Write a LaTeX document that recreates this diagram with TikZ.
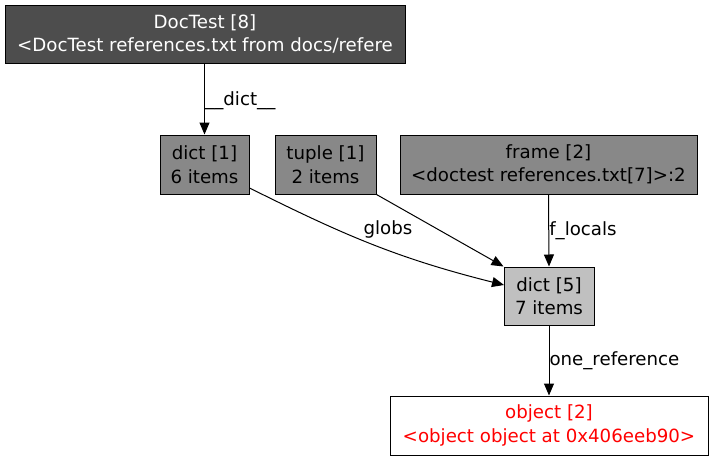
\documentclass[tikz,border=0pt]{standalone}
\usepackage{fontspec}
\setmainfont{DejaVu Sans}
\usetikzlibrary{arrows.meta}
\definecolor{darkfill}{HTML}{4D4D4D}
\definecolor{midfill}{HTML}{888888}
\definecolor{lightfill}{HTML}{C0C0C0}
\begin{document}
\begin{tikzpicture}[x=1pt,y=-1pt,
  objbox/.style={draw=black,line width=1pt,rectangle,inner sep=0pt,align=center,
     font=\fontsize{18.2}{23.5}\selectfont},
  edge/.style={draw=black,line width=1pt,-{Triangle[length=12pt,width=10pt]}},
  elabel/.style={font=\fontsize{18.2}{23.5}\selectfont,inner sep=0pt}]
\useasboundingbox[fill=white] (0,0) rectangle (713,461);
\node[objbox,fill=darkfill,text=white,minimum width=400pt,minimum height=58pt] (doctest) at (205,34) {DocTest [8]\\<DocTest references.txt from docs/refere};
\node[objbox,fill=midfill,minimum width=89pt,minimum height=59pt] (d1) at (204.5,164.5) {dict [1]\\6 items};
\node[objbox,fill=midfill,minimum width=101pt,minimum height=59pt] (tup) at (325.5,164.5) {tuple [1]\\2 items};
\node[objbox,fill=midfill,minimum width=297pt,minimum height=59pt] (frame) at (548.5,164.5) {frame [2]\\<doctest references.txt[7]>:2};
\node[objbox,fill=lightfill,minimum width=90pt,minimum height=58pt] (d5) at (549,296) {dict [5]\\7 items};
\node[objbox,fill=white,text=red,minimum width=318pt,minimum height=59pt] (obj) at (549,425.5) {object [2]\\<object object at 0x406eeb90>};
\coordinate (d5w) at (504,285);
\draw[edge] (doctest.south -| d1.north) -- (d1.north);
\node[elabel,anchor=west] (dlabel) at (205,101) {\_\_dict\_\_};
\draw[edge] (d1.east |- 0,188) .. controls (340,233) and (394,257.5) .. (d5w);
\node[elabel] (glabel) at (388,229) {globs};
\draw[edge] (tup.south east) -- (d5.north west);
\draw[edge] (frame.south) -- (d5.north) node[elabel,pos=0.5,anchor=west] {f\_locals};
\draw[edge] (d5.south) -- (obj.north) node[elabel,pos=0.5,anchor=west] {one\_reference};
\end{tikzpicture}
\end{document}
